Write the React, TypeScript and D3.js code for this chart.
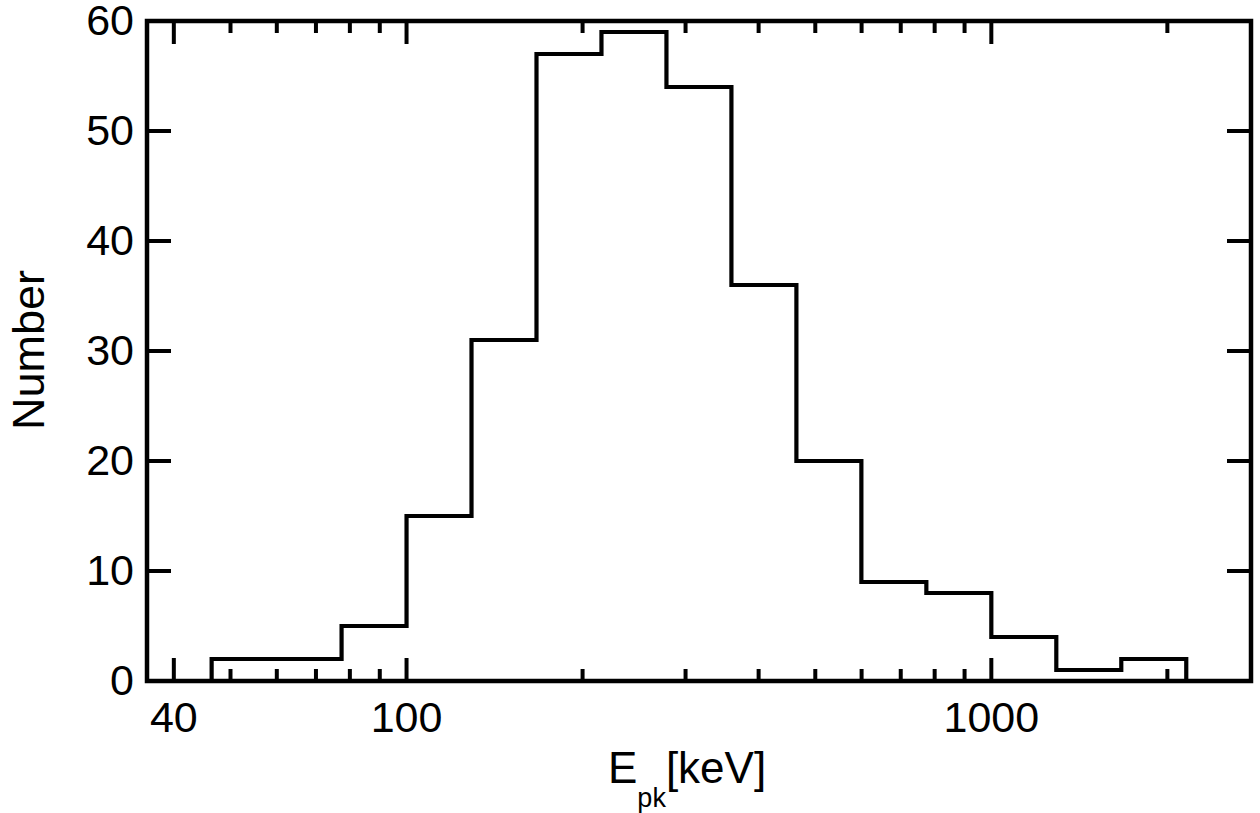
import React from "react";
import * as d3 from "d3";

const binEdges = [46.42, 59.95, 77.43, 100, 129.15, 166.81, 215.44, 278.26, 359.38, 464.16, 599.48, 774.26, 1000, 1291.55, 1668.1, 2154.43];
const counts = [2, 2, 5, 15, 31, 57, 59, 54, 36, 20, 9, 8, 4, 1, 2];
const xMajorTicks = [40, 100, 1000];
const xMinorTicks = [50, 60, 70, 80, 90, 200, 300, 400, 500, 600, 700, 800, 900, 2000];
const yTicks = [0, 10, 20, 30, 40, 50, 60];

const W = 1260;
const H = 813;
const L = 147, R = 1251, T = 21, B = 681;
const FONT = "'Liberation Sans', Arial, Helvetica, sans-serif";

export default function App() {
  const x = d3.scaleLog().domain([35.99, 2780]).range([L, R]);
  const y = d3.scaleLinear().domain([0, 60]).range([B, T]);

  const pts: [number, number][] = [[binEdges[0], 0]];
  counts.forEach((c, i) => {
    pts.push([binEdges[i], c]);
    pts.push([binEdges[i + 1], c]);
  });
  pts.push([binEdges[binEdges.length - 1], 0]);
  const line = d3.line<[number, number]>().x((d) => x(d[0])).y((d) => y(d[1]));

  const majLen = 23, minLen = 12, yLen = 24;

  return (
    <svg width={W} height={H} style={{ position: "absolute", left: 0, top: 0, background: "#fff" }}>
      <rect x={0} y={0} width={W} height={H} fill="#fff" />
      <path d={line(pts) || ""} fill="none" stroke="#000" strokeWidth={4.2} strokeLinejoin="miter" strokeLinecap="butt" />
      {/* x ticks */}
      {xMajorTicks.map((t) => (
        <g key={"xm" + t}>
          <line x1={x(t)} x2={x(t)} y1={B} y2={B - majLen} stroke="#000" strokeWidth={4} />
          <line x1={x(t)} x2={x(t)} y1={T} y2={T + majLen} stroke="#000" strokeWidth={4} />
          <text x={x(t)} y={732} textAnchor="middle" fontFamily={FONT} fontSize={43} fill="#000">{t}</text>
        </g>
      ))}
      {xMinorTicks.map((t) => (
        <g key={"xn" + t}>
          <line x1={x(t)} x2={x(t)} y1={B} y2={B - minLen} stroke="#000" strokeWidth={4} />
          <line x1={x(t)} x2={x(t)} y1={T} y2={T + minLen} stroke="#000" strokeWidth={4} />
        </g>
      ))}
      {/* y ticks */}
      {yTicks.map((t) => (
        <g key={"y" + t}>
          <line x1={L} x2={L + yLen} y1={y(t)} y2={y(t)} stroke="#000" strokeWidth={4} />
          <line x1={R} x2={R - yLen} y1={y(t)} y2={y(t)} stroke="#000" strokeWidth={4} />
          <text x={134} y={y(t) + 14} textAnchor="end" fontFamily={FONT} fontSize={43} fill="#000">{t}</text>
        </g>
      ))}
      <rect x={L} y={T} width={R - L} height={B - T} fill="none" stroke="#000" strokeWidth={4.5} />
      {/* axis titles */}
      <text x={608} y={783} fontFamily={FONT} fontSize={44} fill="#000">
        E<tspan fontSize={27} dy={24}>pk</tspan><tspan dy={-24}>[keV]</tspan>
      </text>
      <text transform="translate(44,350) rotate(-90)" textAnchor="middle" fontFamily={FONT} fontSize={45} fill="#000">Number</text>
    </svg>
  );
}
